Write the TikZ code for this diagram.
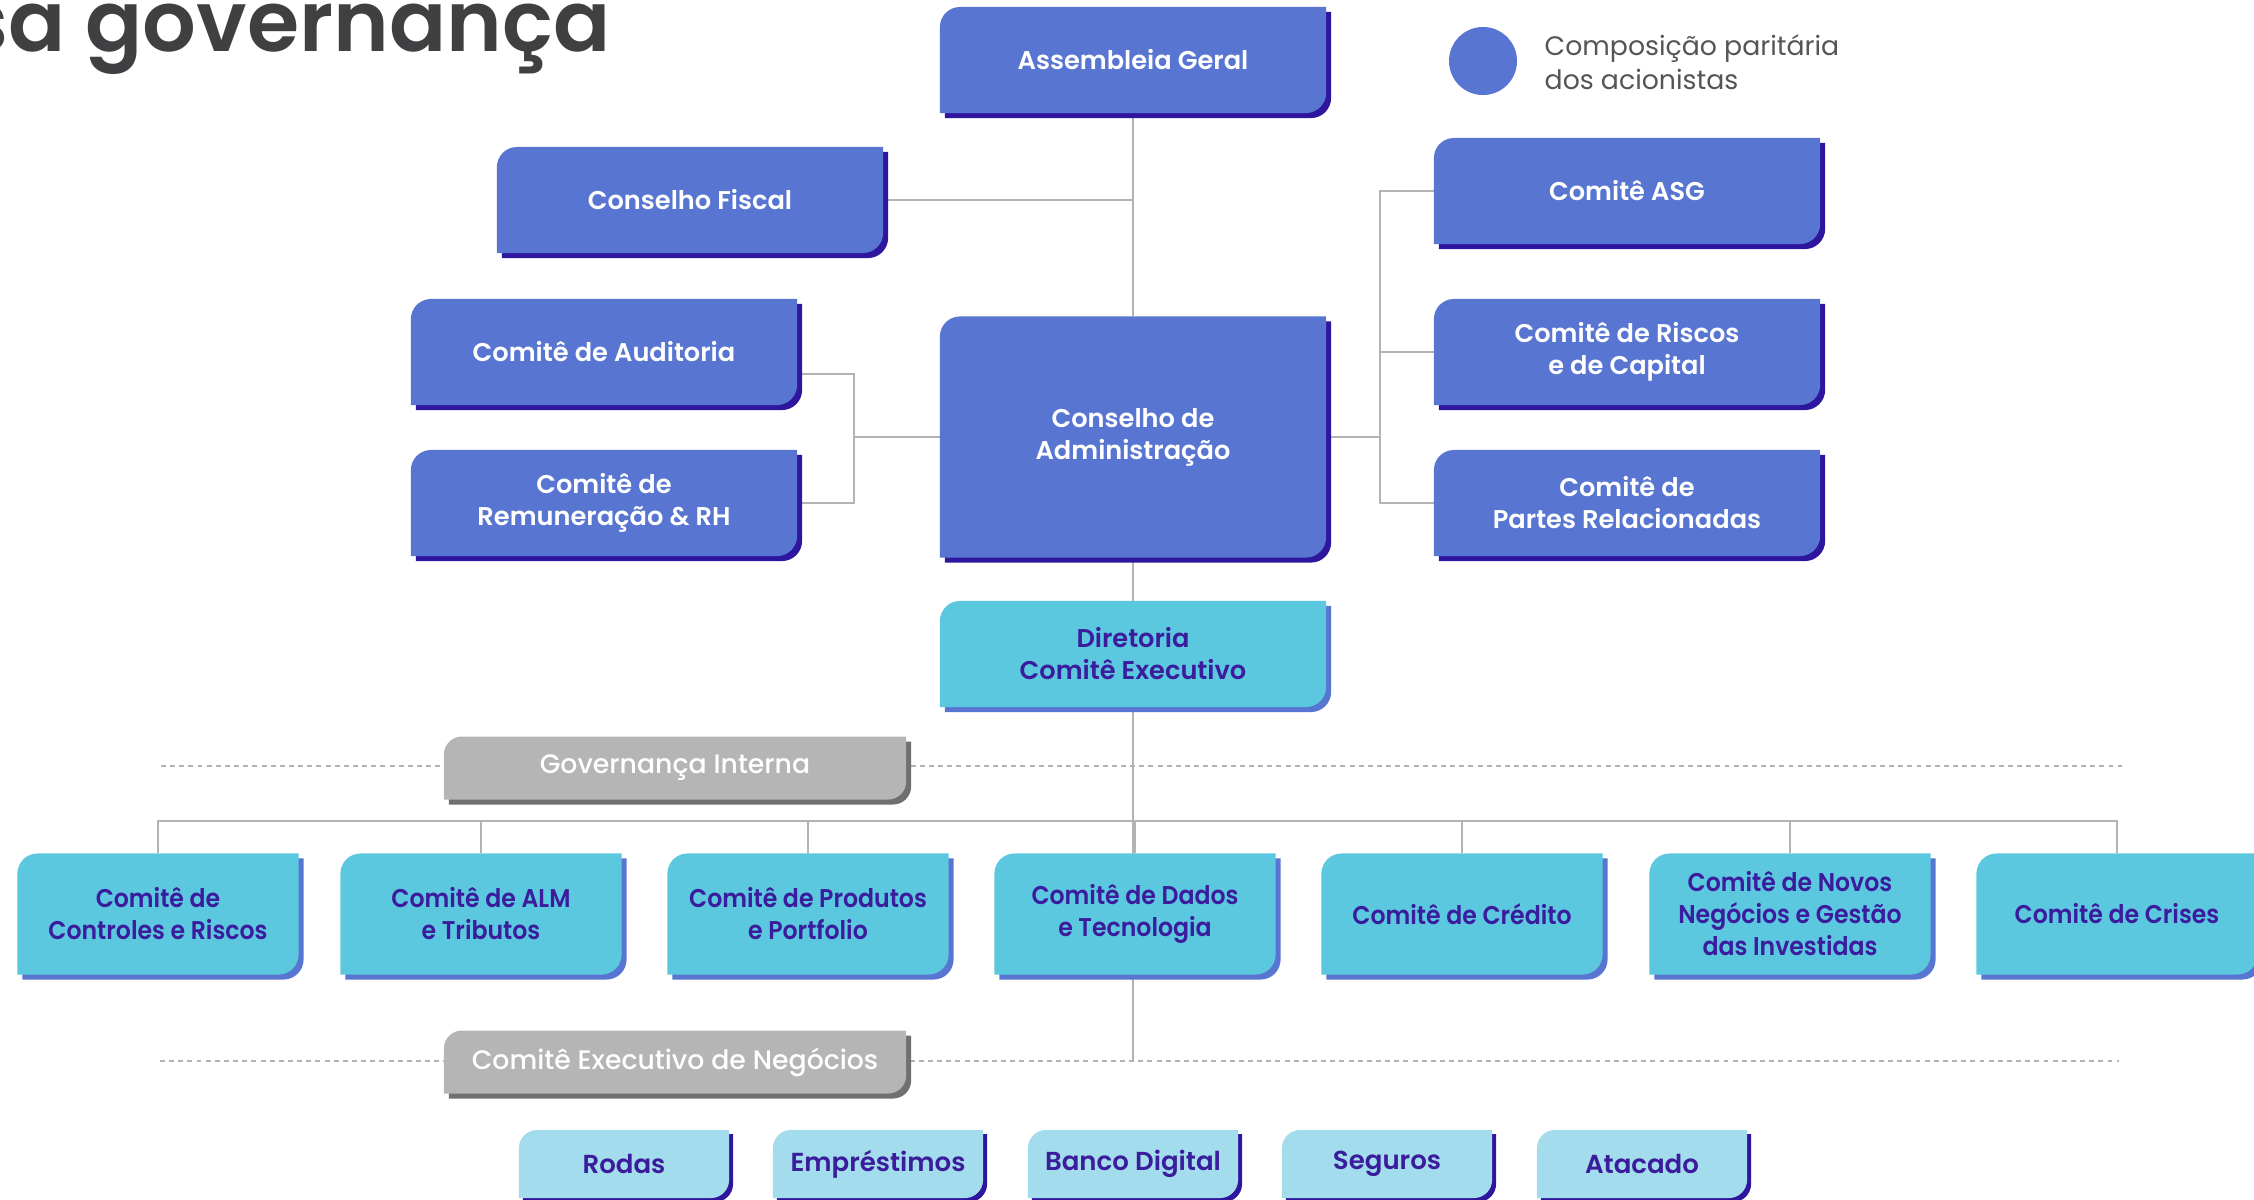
\documentclass[tikz,border=0pt]{standalone}
\usepackage{fontspec}
\setmainfont{Poppins}[UprightFont=* Medium, BoldFont=* SemiBold]
\newfontfamily\condfont{Poppins}[UprightFont=* SemiBold, FakeStretch=0.92]
\newfontfamily\legendfont{Poppins}
\usetikzlibrary{calc}
\pgfdeclarelayer{edgelayer}
\pgfdeclarelayer{nodelayer}
\pgfsetlayers{edgelayer,nodelayer,main}
\definecolor{govblue}{HTML}{5876D1}
\definecolor{govindigo}{HTML}{2E169E}
\definecolor{govcyan}{HTML}{5CC8E0}
\definecolor{govpale}{HTML}{A3DCEC}
\definecolor{govgray}{HTML}{B5B5B5}
\definecolor{govdark}{HTML}{707072}
\definecolor{govline}{HTML}{B3B3B3}
\definecolor{govtext}{HTML}{3A1C9C}
\definecolor{govtitle}{HTML}{404042}
\definecolor{govlegend}{HTML}{555555}
\tikzstyle{tab}=[rectangle, inner sep=0, outer sep=0, align=center, font=\fontsize{7.3}{9.1}\selectfont\bfseries]
\tikzstyle{bluebox}=[tab, text=white, minimum width=3.86cm, minimum height=1.06cm]
\tikzstyle{dirbox}=[tab, text=govtext, minimum width=3.86cm, minimum height=1.06cm]
\tikzstyle{cyanbox}=[tab, text=govtext, font=\condfont\fontsize{7.3}{9.1}\selectfont, minimum width=2.81cm, minimum height=1.21cm]
\tikzstyle{palebox}=[tab, text=govtext, font=\fontsize{7.4}{9}\selectfont\bfseries, minimum width=2.10cm, minimum height=0.68cm]
\tikzstyle{graybox}=[tab, text=white, font=\fontsize{7.6}{9}\selectfont, minimum width=4.62cm, minimum height=0.63cm]
\tikzstyle{link}=[draw=govline, line width=0.55pt]
\tikzstyle{divider}=[draw=govline, line width=0.45pt, dash pattern=on 1.4pt off 1.2pt]
% tab shape: rounded top left and bottom right, #4 = offset of the shadow
\newcommand{\tabfill}[4]{%
  \fill[#1] ($(#2.south west)+(#4,#4)$) -- ($(#2.north west)+(#4,#3+#4)$)
    .. controls ($(#2.north west)+(#4,0.45*#3+#4)$) and ($(#2.north west)+(0.45*#3+#4,#4)$) .. ($(#2.north west)+(#3+#4,#4)$)
    -- ($(#2.north east)+(#4,#4)$) -- ($(#2.south east)+(#4,-#3+#4)$)
    .. controls ($(#2.south east)+(#4,-0.45*#3+#4)$) and ($(#2.south east)+(-0.45*#3+#4,#4)$) .. ($(#2.south east)+(-#3+#4,#4)$)
    -- cycle;}

\begin{document}
\begin{tikzpicture}[x=0.01cm, y=-0.01cm]
	\useasboundingbox (0,0) rectangle (2254,1199);

	%title and legend
	\node [anchor=base east, inner sep=0, text=govtitle, font=\fontsize{24}{28}\selectfont\bfseries] (title) at (611,51) {sa governança};
	\node [circle, fill=govblue, minimum size=0.68cm, inner sep=0] (dot) at (1483,61) {};
	\node [anchor=west, align=left, inner sep=0, text=govlegend, font=\legendfont\fontsize{7.6}{9.6}\selectfont] (legend) at (1544,62) {Composição paritária\\dos acionistas};

	%conselhos
	\node [style=bluebox] (ag) at (1133,60) {Assembleia Geral};
	\node [style=bluebox] (cf) at (690,200) {Conselho Fiscal};
	\node [style=bluebox] (aud) at (604,352) {Comitê de Auditoria};
	\node [style=bluebox] (rem) at (604,503) {Comitê de\\Remuneração \& RH};
	\node [style=bluebox, minimum height=2.41cm] (ca) at (1133,437) {Conselho de\\Administração};
	\node [style=bluebox] (asg) at (1627,191) {Comitê ASG};
	\node [style=bluebox] (riscos) at (1627,352) {Comitê de Riscos\\e de Capital};
	\node [style=bluebox] (partes) at (1627,503) {Comitê de\\Partes Relacionadas};
	\node [style=dirbox] (dir) at (1133,654) {Diretoria\\Comitê Executivo};

	%governanca interna
	\node [style=graybox] (gi) at (675,768) {Governança Interna};
	\foreach \nm/\x/\txt in {c1/158/{Comitê de\\Controles e Riscos}, c2/481/{Comitê de ALM\\e Tributos},
		c3/808/{Comitê de Produtos\\e Portfolio}, c4/1135/{Comitê de Dados\\e Tecnologia},
		c5/1462/{Comitê de Crédito}, c6/1790/{Comitê de Novos\\Negócios e Gestão\\das Investidas},
		c7/2117/{Comitê de Crises}}
		\node [style=cyanbox] (\nm) at (\x,914) {\txt};

	%negocios
	\node [style=graybox] (ce) at (675,1062) {Comitê Executivo de Negócios};
	\foreach \nm/\x/\txt in {p1/624/Rodas, p2/878/Empréstimos, p3/1133/Banco Digital, p4/1387/Seguros, p5/1642/Atacado}
		\node [style=palebox] (\nm) at (\x,1164) {\txt};

	\begin{pgfonlayer}{nodelayer}
		\foreach \n in {ag,cf,aud,rem,ca,asg,riscos,partes} {
			\tabfill{govindigo}{\n}{20}{5}
			\tabfill{govblue}{\n}{20}{0}
		}
		\tabfill{govblue}{dir}{20}{5}
		\tabfill{govcyan}{dir}{20}{0}
		\foreach \n in {c1,c2,c3,c4,c5,c6,c7} {
			\tabfill{govblue}{\n}{20}{5}
			\tabfill{govcyan}{\n}{20}{0}
		}
		\foreach \n in {gi,ce} {
			\tabfill{govdark}{\n}{18}{5}
			\tabfill{govgray}{\n}{18}{0}
		}
		\foreach \n in {p1,p2,p3,p4,p5} {
			\tabfill{govindigo}{\n}{18}{4}
			\tabfill{govpale}{\n}{18}{0}
		}
	\end{pgfonlayer}

	\begin{pgfonlayer}{edgelayer}
		\coordinate (lb) at (854,437);
		\coordinate (rb) at (1380,437);
		\coordinate (bus) at (1133,821);
		\coordinate (tb) at (1133,1061);
		\coordinate (gil) at (161,766);
		\coordinate (gir) at (2122,766);
		\coordinate (cel) at (160,1061);
		\coordinate (cer) at (2119,1061);

		%tronco
		\draw [style=link] (ag) -- (ca);
		\draw [style=link] (ca) -- (dir);
		\draw [style=link] (dir) -- (tb);
		\draw [style=link] (cf.east) -- (cf.east -| ag.south);

		%comites do conselho
		\draw [style=link] ($(aud.east)+(0,22)$) -| (lb) |- (rem.east);
		\draw [style=link] (lb) -- (ca.west);
		\draw [style=link] (asg.west) -| (rb) |- (partes.west);
		\draw [style=link] (riscos.west) -- (riscos.west -| rb);
		\draw [style=link] (rb) -- (ca.east);

		%comites internos
		\draw [style=link] (c1.north) |- (bus) -| (c7.north);
		\foreach \n in {c2,c3,c4,c5,c6}
			\draw [style=link] (\n.north) -- (\n.north |- bus);

		\draw [style=divider] (gil) -- (gir);
		\draw [style=divider] (cel) -- (cer);
	\end{pgfonlayer}
\end{tikzpicture}
\end{document}
